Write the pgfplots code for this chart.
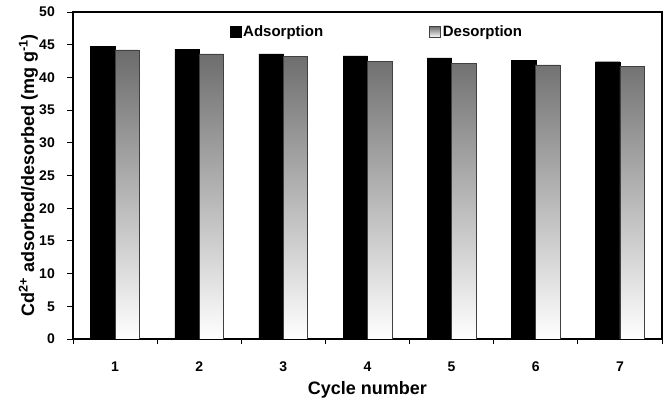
\documentclass[border=0pt]{standalone}
\usepackage{pgfplots}
\pgfplotsset{compat=1.18}
\usepackage{fontspec}
\setmainfont{Liberation Sans}
\begin{document}
\begin{tikzpicture}[x=1pt,y=1pt]
\useasboundingbox (-73,-65) rectangle (597,339);
\begin{axis}[
  at={(0,0)}, anchor=south west,
  scale only axis,
  width=589pt, height=327pt,
  xmin=0.5, xmax=7.5, ymin=0, ymax=50,
  ybar=0pt, bar width=0.29,
  ytick={0,5,...,50},
  xtick={1,...,7},
  minor xtick={0.5,1.5,...,7.5},
  major x tick style={draw=none},
  minor tick length=5pt,
  major tick length=6pt,
  tick align=outside,
  xtick pos=bottom, ytick pos=left,
  axis line style={line width=1.3pt},
  tick style={line width=0.9pt, black},
  every tick label/.append style={font=\fontsize{14}{16}\selectfont\bfseries},
  /pgf/number format/assume math mode=true,
  xticklabel style={anchor=base, yshift=-27pt, at={(axis cs:\tick,0)}},
  yticklabel style={anchor=east, inner sep=0pt, xshift=-12pt},
  xlabel={Cycle number},
  ylabel={Cd\textsuperscript{2+} adsorbed/desorbed (mg g\textsuperscript{-1})},
  label style={font=\fontsize{18}{20}\selectfont\bfseries, inner sep=0pt},
  xlabel style={at={(axis description cs:0.5,-0.171)}, anchor=base},
  ylabel style={at={(axis description cs:-0.0662,0.5)}, anchor=base, rotate=0},
  legend style={draw=none, fill=none, at={(axis description cs:0.516,0.939)}, anchor=center,
    font=\fontsize{15}{17}\selectfont\bfseries, inner sep=0pt,
    nodes={inner xsep=2pt},
    /tikz/every even column/.append style={column sep=104pt}},
  legend columns=2,
  legend image code/.code={\draw[#1] (0pt,-5.5pt) rectangle (11pt,5.5pt);},
]
\addplot[fill=black, draw=black] coordinates {
 (1,44.7) (2,44.3) (3,43.6) (4,43.3) (5,43.0) (6,42.6) (7,42.4)};
\addplot[draw=black!75, line width=0.7pt, top color=black!58, bottom color=white] coordinates {
 (1,44.2) (2,43.6) (3,43.2) (4,42.4) (5,42.1) (6,41.9) (7,41.7)};
\legend{Adsorption, Desorption}
\end{axis}
\end{tikzpicture}
\end{document}
